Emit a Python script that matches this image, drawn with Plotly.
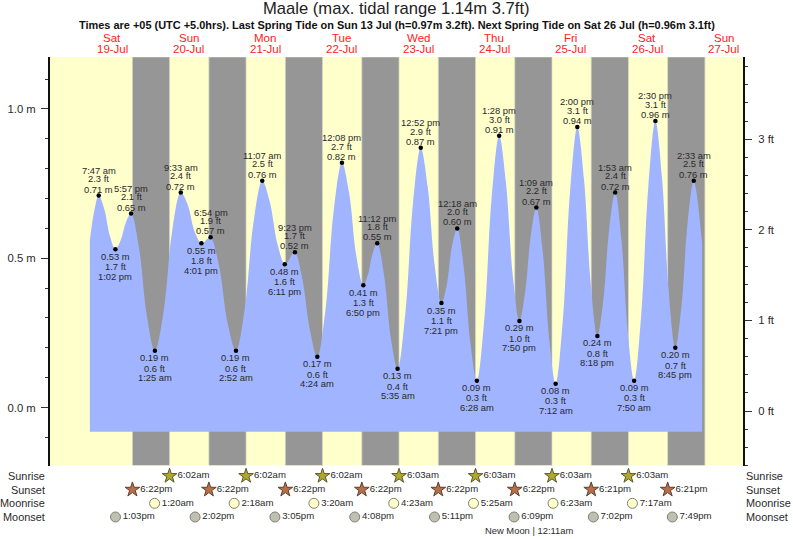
"""Maale tide chart, 19-27 Jul: tide curve, day/night bands, sun and moon rows."""

import plotly.graph_objects as go

WIDTH, HEIGHT = 793, 539
FONT = "Liberation Sans"
TEXT = "#2a2a2a"

title = "Maale (max. tidal range 1.14m 3.7ft)"
subtitle = (
    "Times are +05 (UTC +5.0hrs). Last Spring Tide on Sun 13 Jul (h=0.97m 3.2ft). "
    "Next Spring Tide on Sat 26 Jul (h=0.96m 3.1ft)"
)

# day labels sit at noon of each day
day_stamps = ["19 12:00", "20 12:00", "21 12:00", "22 12:00", "23 12:00", "24 12:00", "25 12:00", "26 12:00", "27 12:00"]
day_names = ["Sat", "Sun", "Mon", "Tue", "Wed", "Thu", "Fri", "Sat", "Sun"]
day_dates = ["19-Jul", "20-Jul", "21-Jul", "22-Jul", "23-Jul", "24-Jul", "25-Jul", "26-Jul", "27-Jul"]

# high and low waters as printed on the chart
extreme_stamps = [
    "19 07:47", "19 13:02", "19 17:57", "20 01:25", "20 09:33", "20 16:01", "20 18:54", "21 02:52",
    "21 11:07", "21 18:11", "21 21:23", "22 04:24", "22 12:08", "22 18:50", "22 23:12", "23 05:35",
    "23 12:52", "23 19:21", "24 00:18", "24 06:28", "24 13:28", "24 19:50", "25 01:09", "25 07:12",
    "25 14:00", "25 20:18", "26 01:53", "26 07:50", "26 14:30", "26 20:45", "27 02:33",
]
extreme_m = [
    0.71, 0.53, 0.65, 0.19, 0.72, 0.55, 0.57, 0.19, 0.76, 0.48, 0.52, 0.17, 0.82, 0.41, 0.55, 0.13,
    0.87, 0.35, 0.60, 0.09, 0.91, 0.29, 0.67, 0.08, 0.94, 0.24, 0.72, 0.09, 0.96, 0.20, 0.76,
]
extreme_ft = [
    2.3, 1.7, 2.1, 0.6, 2.4, 1.8, 1.9, 0.6, 2.5, 1.6, 1.7, 0.6, 2.7, 1.3, 1.8, 0.4,
    2.9, 1.1, 2.0, 0.3, 3.0, 1.0, 2.2, 0.3, 3.1, 0.8, 2.4, 0.3, 3.1, 0.7, 2.5,
]
extreme_times = [
    "7:47 am", "1:02 pm", "5:57 pm", "1:25 am", "9:33 am", "4:01 pm", "6:54 pm", "2:52 am",
    "11:07 am", "6:11 pm", "9:23 pm", "4:24 am", "12:08 pm", "6:50 pm", "11:12 pm", "5:35 am",
    "12:52 pm", "7:21 pm", "12:18 am", "6:28 am", "1:28 pm", "7:50 pm", "1:09 am", "7:12 am",
    "2:00 pm", "8:18 pm", "1:53 am", "7:50 am", "2:30 pm", "8:45 pm", "2:33 am",
]
extreme_is_high = [
    True, False, True, False, True, False, True, False, True, False, True, False, True, False, True, False,
    True, False, True, False, True, False, True, False, True, False, True, False, True, False, True,
]

# tide curve
curve_stamps = [
    "19 05:00", "19 06:25", "19 07:47", "19 09:32", "19 11:17", "19 13:02", "19 14:40", "19 16:19",
    "19 17:57", "19 20:26", "19 22:56", "20 01:25", "20 04:08", "20 06:50", "20 09:33", "20 11:42",
    "20 13:52", "20 16:01", "20 16:59", "20 17:56", "20 18:54", "20 21:33", "21 00:13", "21 02:52",
    "21 05:37", "21 08:22", "21 11:07", "21 13:28", "21 15:50", "21 18:11", "21 19:15", "21 20:19",
    "21 21:23", "21 23:43", "22 02:04", "22 04:24", "22 06:59", "22 09:33", "22 12:08", "22 14:22",
    "22 16:36", "22 18:50", "22 20:17", "22 21:45", "22 23:12", "23 01:20", "23 03:27", "23 05:35",
    "23 08:01", "23 10:26", "23 12:52", "23 15:02", "23 17:11", "23 19:21", "23 21:00", "23 22:39",
    "24 00:18", "24 02:21", "24 04:25", "24 06:28", "24 08:48", "24 11:08", "24 13:28", "24 15:35",
    "24 17:43", "24 19:50", "24 21:36", "24 23:23", "25 01:09", "25 03:10", "25 05:11", "25 07:12",
    "25 09:28", "25 11:44", "25 14:00", "25 16:06", "25 18:12", "25 20:18", "25 22:10", "26 00:01",
    "26 01:53", "26 03:52", "26 05:51", "26 07:50", "26 10:03", "26 12:17", "26 14:30", "26 16:35",
    "26 18:40", "26 20:45", "26 22:41", "27 00:37", "27 02:33", "27 03:25", "27 04:18", "27 05:10",
]
curve_m = [
    0.56, 0.66, 0.71, 0.665, 0.575, 0.53, 0.56, 0.62,
    0.65, 0.535, 0.305, 0.19, 0.32, 0.59, 0.72, 0.68,
    0.59, 0.55, 0.555, 0.565, 0.57, 0.475, 0.285, 0.19,
    0.33, 0.62, 0.76, 0.69, 0.55, 0.48, 0.49, 0.51,
    0.52, 0.43, 0.26, 0.17, 0.33, 0.66, 0.82, 0.72,
    0.51, 0.41, 0.445, 0.515, 0.55, 0.445, 0.235, 0.13,
    0.315, 0.685, 0.87, 0.74, 0.48, 0.35, 0.41, 0.54,
    0.60, 0.47, 0.22, 0.09, 0.295, 0.705, 0.91, 0.755,
    0.445, 0.29, 0.385, 0.575, 0.67, 0.52, 0.23, 0.08,
    0.295, 0.725, 0.94, 0.765, 0.415, 0.24, 0.36, 0.60,
    0.72, 0.56, 0.25, 0.09, 0.31, 0.74, 0.96, 0.77,
    0.39, 0.20, 0.34, 0.62, 0.76, 0.72, 0.64, 0.55,
]
curve_floor_m = -0.081

sunset_stamps = ["19 18:22", "20 18:22", "21 18:22", "22 18:22", "23 18:22", "24 18:22", "25 18:21", "26 18:21"]
sunset_labels = ["6:22pm", "6:22pm", "6:22pm", "6:22pm", "6:22pm", "6:22pm", "6:21pm", "6:21pm"]
sunrise_stamps = ["20 06:02", "21 06:02", "22 06:02", "23 06:03", "24 06:03", "25 06:03", "26 06:03"]
sunrise_labels = ["6:02am", "6:02am", "6:02am", "6:03am", "6:03am", "6:03am", "6:03am"]
last_sunrise = "27 06:03"  # closes the final night band, not labelled on the chart
moonrise_stamps = ["20 01:20", "21 02:18", "22 03:20", "23 04:23", "24 05:25", "25 06:23", "26 07:17"]
moonrise_labels = ["1:20am", "2:18am", "3:20am", "4:23am", "5:25am", "6:23am", "7:17am"]
moonset_stamps = ["19 13:03", "20 14:02", "21 15:05", "22 16:08", "23 17:11", "24 18:09", "25 19:02", "26 19:49"]
moonset_labels = ["1:03pm", "2:02pm", "3:05pm", "4:08pm", "5:11pm", "6:09pm", "7:02pm", "7:49pm"]
row_names = ["Sunrise", "Sunset", "Moonrise", "Moonset"]


def ts(stamp):
    return f"2025-07-{stamp}"


def px_y(y):
    return 1 - y / HEIGHT


x_range = ["2025-07-18 16:30", "2025-07-27 18:00"]
m_range = [-0.194, 1.174]
ft_range = [-0.6, 3.906]
row_range = [4.61, -0.73]

fig = go.Figure()

# invisible baseline so the tide fill stops short of the plot bottom
fig.add_trace(go.Scatter(
    x=[ts(curve_stamps[0]), ts(curve_stamps[-1])], y=[curve_floor_m, curve_floor_m],
    mode="lines", line=dict(width=0), hoverinfo="skip",
))
fig.add_trace(go.Scatter(
    x=[ts(s) for s in curve_stamps], y=curve_m, mode="lines",
    line=dict(width=0, shape="spline", smoothing=1.0),
    fill="tonexty", fillcolor="#a0b4ff", hoverinfo="skip",
))
fig.add_trace(go.Scatter(
    x=[ts(s) for s in extreme_stamps], y=extreme_m, mode="markers",
    marker=dict(color="black", size=4.5), hoverinfo="skip",
))
# ft axis only shows up with a trace on it
fig.add_trace(go.Scatter(
    x=[ts(s) for s in extreme_stamps], y=extreme_ft, yaxis="y2", mode="markers",
    marker=dict(opacity=0), hoverinfo="skip",
))


def add_row(stamps, labels, row, symbol, size, fill, edge):
    fig.add_trace(go.Scatter(
        x=[ts(s) for s in stamps], y=[row] * len(stamps), yaxis="y3",
        mode="markers+text", text=labels, textposition="middle right",
        textfont=dict(family=FONT, size=9.6, color=TEXT),
        marker=dict(symbol=symbol, size=size, color=fill, line=dict(color=edge, width=1)),
        cliponaxis=False, hoverinfo="skip",
    ))


add_row(sunrise_stamps, sunrise_labels, 0, "star", 11, "#b0a82a", "#5a5a30")
add_row(sunset_stamps, sunset_labels, 1, "star", 11, "#b96e4a", "#5a4030")
add_row(moonrise_stamps, moonrise_labels, 2, "circle", 10, "#ffffcc", "#808070")
add_row(moonset_stamps, moonset_labels, 3, "circle", 10, "#c0c0b0", "#808078")

# day background, then night bands
shapes = [dict(
    type="rect", xref="x", yref="y", x0=x_range[0], x1=x_range[1], y0=m_range[0], y1=m_range[1],
    fillcolor="#ffffcc", line_width=0, layer="below",
)]
night_ends = sunrise_stamps + [last_sunrise]
for start, end in zip(sunset_stamps, night_ends):
    shapes.append(dict(
        type="rect", xref="x", yref="y", x0=ts(start), x1=ts(end), y0=m_range[0], y1=m_range[1],
        fillcolor="#969696", line=dict(color="#d8d8c8", width=0.7), layer="below",
    ))

annotations = []


def paper_note(text, x, y, size, color=TEXT, xref="paper", xanchor="center", xshift=0):
    annotations.append(dict(
        text=text, xref=xref, yref="paper", x=x, y=px_y(y), xanchor=xanchor, yanchor="middle",
        xshift=xshift, showarrow=False, font=dict(family=FONT, size=size, color=color),
    ))


paper_note(title, 0.5, 9, 16.6, "#222")
paper_note(f"<b>{subtitle}</b>", 0.5, 25, 10.95, "#111")

for stamp, name, date in zip(day_stamps, day_names, day_dates):
    paper_note(name, ts(stamp), 37.5, 11.5, "#ff2020", xref="x")
    paper_note(date, ts(stamp), 49, 11.5, "#ff2020", xref="x")

for stamp, m, ft, label, high in zip(extreme_stamps, extreme_m, extreme_ft, extreme_times, extreme_is_high):
    sign = 1 if high else -1
    lines = [f"{m:.2f} m", f"{ft:.1f} ft", label]
    offsets = [6.4, 16.7, 25.2] if high else [7, 17.3, 27]
    for line, offset in zip(lines, offsets):
        annotations.append(dict(
            text=line, xref="x", yref="y", x=ts(stamp), y=m, yshift=sign * offset,
            xanchor="center", yanchor="middle", showarrow=False,
            font=dict(family=FONT, size=9.4, color=TEXT),
        ))

row_px = [476, 490, 503, 517]
for name, y in zip(row_names, row_px):
    paper_note(name, 0, y, 10.9, xanchor="right", xshift=-3.5)
    paper_note(name, 1, y, 10.9, xanchor="left", xshift=0.5)
paper_note("New Moon | 12:11am", (529 - 50) / 693, 530, 9.4)

fig.update_layout(
    width=WIDTH, height=HEIGHT, margin=dict(l=50, r=50, t=0, b=0, pad=0),
    paper_bgcolor="white", plot_bgcolor="white",
    showlegend=False, hovermode=False,
    shapes=shapes, annotations=annotations,
    xaxis=dict(type="date", range=x_range, visible=False, anchor="y"),
    yaxis=dict(
        domain=[px_y(465.5), px_y(57)], range=m_range, showgrid=False, zeroline=False,
        tickvals=[0, 0.5, 1.0], ticktext=["0.0 m", "0.5 m", "1.0 m"],
        tickfont=dict(family=FONT, size=11.3, color=TEXT), ticklabelstandoff=3,
        ticks="outside", ticklen=7, tickwidth=1, tickcolor="#333",
        minor=dict(dtick=0.1, tick0=0, ticks="outside", ticklen=3, tickwidth=1, tickcolor="#333", showgrid=False),
        showline=True, linecolor="#111", linewidth=2,
    ),
    yaxis2=dict(
        domain=[px_y(465.5), px_y(52)], range=ft_range, overlaying="y", side="right", anchor="x",
        showgrid=False, zeroline=False,
        tickvals=[0, 1, 2, 3], ticktext=["0 ft", "1 ft", "2 ft", "3 ft"],
        tickfont=dict(family=FONT, size=11.3, color=TEXT), ticklabelstandoff=4,
        ticks="outside", ticklen=7, tickwidth=1, tickcolor="#333",
        minor=dict(dtick=0.2, tick0=0, ticks="outside", ticklen=3, tickwidth=1, tickcolor="#333", showgrid=False),
        showline=True, linecolor="#111", linewidth=2,
    ),
    yaxis3=dict(domain=[0, px_y(466)], range=row_range, visible=False, anchor="x"),
)

fig.write_html("out.html", post_script="document.body.style.margin='0';", config={"displayModeBar": False})
